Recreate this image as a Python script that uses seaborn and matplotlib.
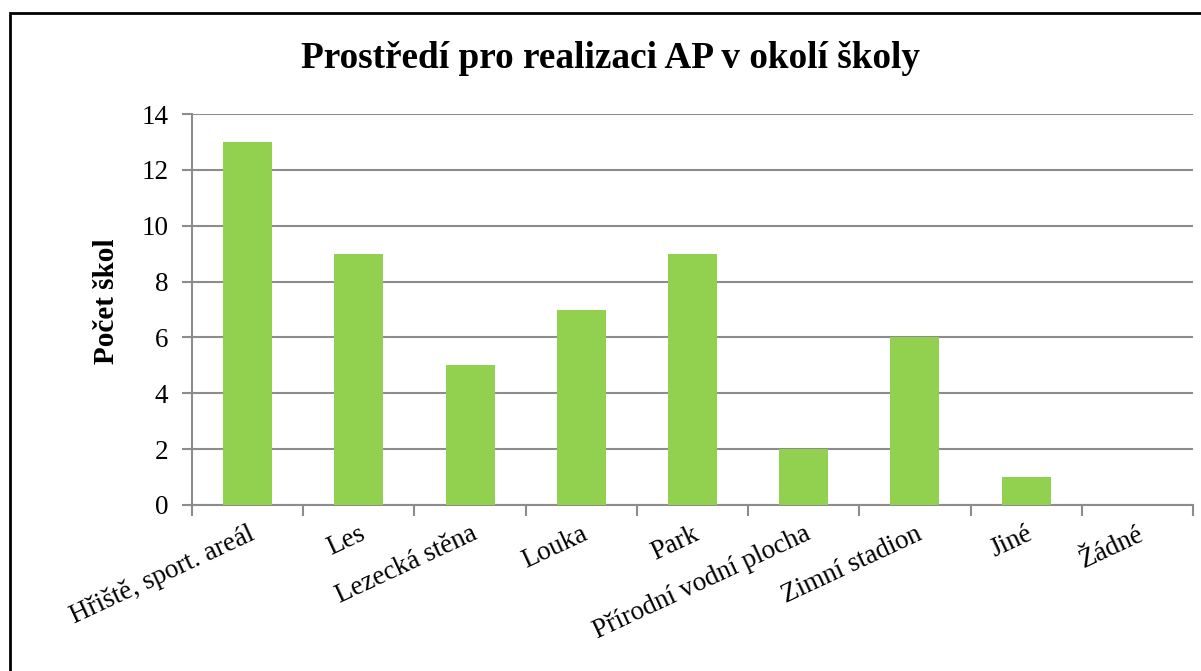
import matplotlib
matplotlib.use("Agg")
import matplotlib.pyplot as plt
import numpy as np
import pandas as pd
import seaborn as sns

# Data
kategorie = ["Hřiště, sport. areál", "Les", "Lezecká stěna", "Louka", "Park",
             "Přírodní vodní plocha", "Zimní stadion", "Jiné", "Žádné"]
pocet = [13, 9, 5, 7, 9, 2, 6, 1, 0]

df = pd.DataFrame({"kategorie": kategorie, "pocet": pocet})

sns.set_theme(style="white")
plt.rcParams['font.family'] = ['Liberation Serif', 'DejaVu Serif']
plt.rcParams['text.color'] = 'black'
plt.rcParams['xtick.color'] = 'black'
plt.rcParams['ytick.color'] = 'black'
plt.rcParams['axes.labelcolor'] = 'black'

fig = plt.figure(figsize=(12.01, 6.71), dpi=100)
ax = fig.add_axes([192 / 1201, 1 - 505 / 671, (1193 - 192) / 1201, (505 - 114) / 671])

sns.barplot(data=df, x="kategorie", y="pocet", color="#92D050", width=0.44,
            saturation=1, linewidth=0, ax=ax, zorder=3)

seda = "#8C8C8C"
ax.set_ylim(0, 14)
ax.set_xlim(-0.5, len(kategorie) - 0.5)
ax.set_yticks(np.arange(0, 15, 2))
ax.yaxis.grid(True, color=seda, linewidth=1.5, zorder=0)
ax.set_axisbelow(True)
for s in ["top", "right"]:
    ax.spines[s].set_visible(False)
for s in ["left", "bottom"]:
    ax.spines[s].set_color(seda)
    ax.spines[s].set_linewidth(1.5)

# tick marks between categories on x axis
ax.set_xticks(np.arange(-0.5, len(kategorie), 1), minor=True)
ax.tick_params(axis="x", which="minor", length=8, width=1.5, color=seda, direction="out", bottom=True)
ax.tick_params(axis="x", which="major", length=0, pad=12)
ax.tick_params(axis="y", length=7, width=1.5, color=seda, direction="out", left=True, pad=10)

ax.set_xticks(range(len(kategorie)))
ax.set_xticklabels(kategorie, rotation=25, ha="right", rotation_mode="anchor", fontsize=19.5)
for t in ax.get_yticklabels():
    t.set_fontsize(19.5)

ax.set_xlabel("")
ax.set_ylabel("Počet škol", fontsize=21, fontweight="bold")
ax.yaxis.set_label_coords(-0.072, 0.522)
fig.text(0.508, 1 - 58 / 671, "Prostředí pro realizaci AP v okolí školy",
         ha="center", va="center", fontsize=26.8, fontweight="bold")

# outer frame (cropped at right and bottom like the reference)
ramecek = plt.Rectangle((9.5 / 1201, -0.05), 1.2, 1 - 12.5 / 671 + 0.05,
                        transform=fig.transFigure, fill=False, edgecolor="black",
                        linewidth=2, clip_on=False)
fig.patches.append(ramecek)

fig.savefig("out.png", dpi=100, facecolor="white")
